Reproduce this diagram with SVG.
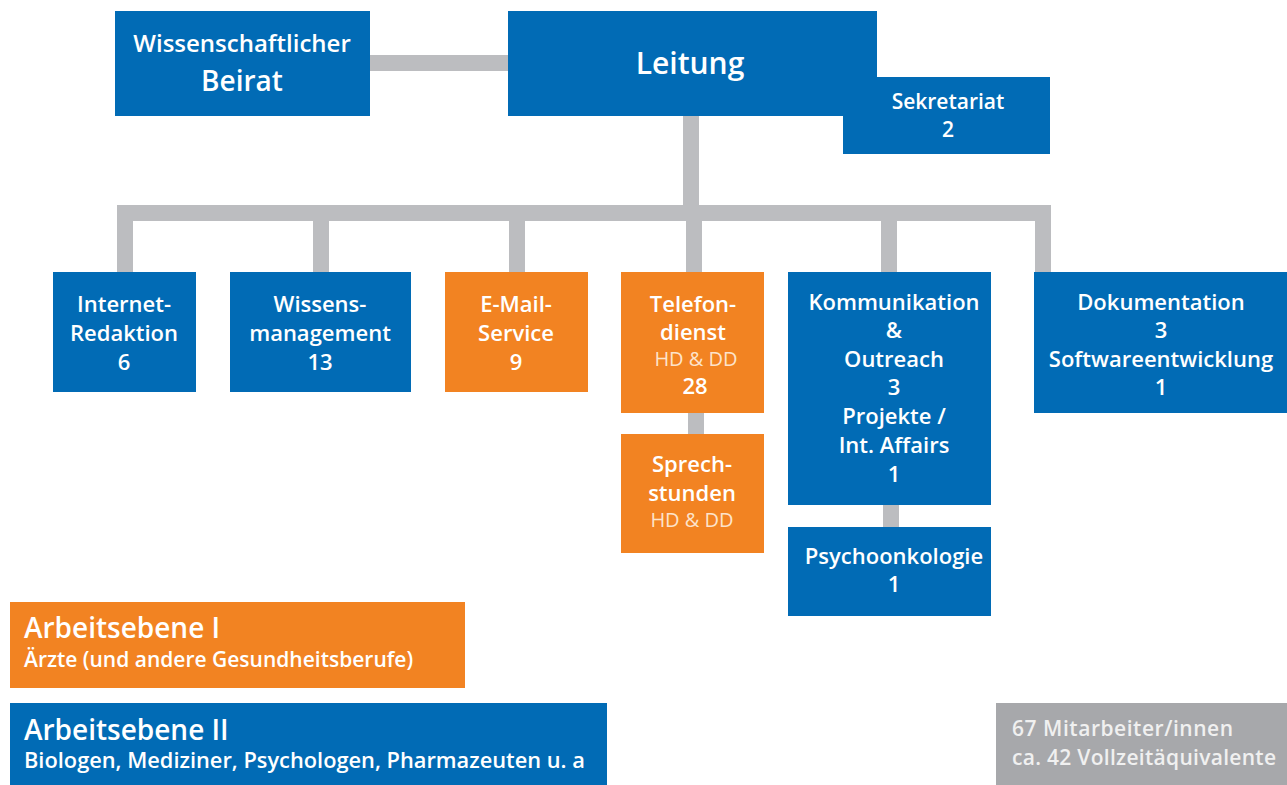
<svg xmlns="http://www.w3.org/2000/svg" width="1287" height="785" viewBox="0 0 1287 785">
<style>
.b{fill:#016bb5}
.o{fill:#f28322}
.g{fill:#a7a8ab}
.c{fill:#bcbdc0}
text{font-family:"Open Sans","Noto Sans","Liberation Sans",sans-serif;font-weight:600;fill:#fff}
.m{text-anchor:middle;font-size:22px}
.l{font-weight:400;font-size:20px;fill:#fde3cc}
.h{font-size:28px}
.s{font-size:21px}
.gt{fill:#f0f0f0;font-size:21px}
</style>
<rect width="1287" height="785" fill="#fff"/>
<g id="connectors">
<rect class="c" x="370" y="55" width="138" height="16"/>
<rect class="c" x="683" y="116" width="16" height="96"/>
<rect class="c" x="117" y="205" width="934" height="16"/>
<rect class="c" x="117" y="205" width="16" height="67"/>
<rect class="c" x="313" y="205" width="16" height="67"/>
<rect class="c" x="509" y="205" width="16" height="67"/>
<rect class="c" x="686" y="205" width="16" height="67"/>
<rect class="c" x="881" y="205" width="16" height="67"/>
<rect class="c" x="1035" y="205" width="16" height="67"/>
<rect class="c" x="688" y="413" width="16" height="21"/>
<rect class="c" x="883" y="505" width="16" height="22"/>
</g>
<g id="beirat">
<rect class="b" x="115" y="11" width="255" height="105"/>
<text class="m" x="242" y="52" style="font-size:24px">Wissenschaftlicher</text>
<text class="m" x="242" y="91" style="font-size:28px">Beirat</text>
</g>
<g id="leitung">
<rect class="b" x="508" y="11" width="369" height="105"/>
<text class="m" x="690" y="74" style="font-size:30px">Leitung</text>
</g>
<g id="sekretariat">
<rect class="b" x="843" y="77" width="207" height="77"/>
<text class="m" x="948" y="109" style="font-size:21px">Sekretariat</text>
<text class="m" x="948" y="137" style="font-size:21px">2</text>
</g>
<g id="internet">
<rect class="b" x="53" y="272" width="143" height="120"/>
<text class="m" x="124" y="312">Internet-</text>
<text class="m" x="124" y="341">Redaktion</text>
<text class="m" x="124" y="370">6</text>
</g>
<g id="wissen">
<rect class="b" x="230" y="272" width="181" height="120"/>
<text class="m" x="320" y="312">Wissens-</text>
<text class="m" x="320" y="341">management</text>
<text class="m" x="320" y="370">13</text>
</g>
<g id="email">
<rect class="o" x="445" y="272" width="143" height="120"/>
<text class="m" x="516" y="312">E-Mail-</text>
<text class="m" x="516" y="341">Service</text>
<text class="m" x="516" y="370">9</text>
</g>
<g id="telefon">
<rect class="o" x="621" y="272" width="143" height="141"/>
<text class="m" x="693" y="312">Telefon-</text>
<text class="m" x="693" y="340">dienst</text>
<text class="m l" x="696" y="366">HD &amp; DD</text>
<text class="m" x="695" y="394">28</text>
</g>
<g id="sprech">
<rect class="o" x="621" y="434" width="143" height="119"/>
<text class="m" x="692" y="472">Sprech-</text>
<text class="m" x="692" y="501">stunden</text>
<text class="m l" x="692" y="527">HD &amp; DD</text>
</g>
<g id="kommunikation">
<rect class="b" x="788" y="272" width="203" height="233"/>
<text class="m" x="894" y="310">Kommunikation</text>
<text class="m" x="894" y="338">&amp;</text>
<text class="m" x="894" y="367">Outreach</text>
<text class="m" x="894" y="395">3</text>
<text class="m" x="894" y="424">Projekte /</text>
<text class="m" x="894" y="453">Int. Affairs</text>
<text class="m" x="894" y="482">1</text>
</g>
<g id="psycho">
<rect class="b" x="788" y="527" width="203" height="89"/>
<text class="m" x="894" y="564">Psychoonkologie</text>
<text class="m" x="894" y="592">1</text>
</g>
<g id="doku">
<rect class="b" x="1034" y="272" width="253" height="141"/>
<text class="m" x="1161" y="310">Dokumentation</text>
<text class="m" x="1161" y="338">3</text>
<text class="m" x="1161" y="367">Softwareentwicklung</text>
<text class="m" x="1161" y="395">1</text>
</g>
<g id="legend1">
<rect class="o" x="10" y="602" width="455" height="86"/>
<text class="h" x="24" y="638">Arbeitsebene I</text>
<text class="s" x="24" y="667">Ärzte (und andere Gesundheitsberufe)</text>
</g>
<g id="legend2">
<rect class="b" x="10" y="703" width="597" height="82"/>
<text class="h" x="24" y="740">Arbeitsebene II</text>
<text class="s" x="24" y="768" style="font-size:21.8px">Biologen, Mediziner, Psychologen, Pharmazeuten u. a</text>
</g>
<g id="staff">
<rect class="g" x="996" y="703" width="291" height="82"/>
<text class="gt" x="1012" y="736" textLength="221" lengthAdjust="spacing">67 Mitarbeiter/innen</text>
<text class="gt" x="1012" y="765" textLength="264" lengthAdjust="spacing">ca. 42 Vollzeitäquivalente</text>
</g>
</svg>
